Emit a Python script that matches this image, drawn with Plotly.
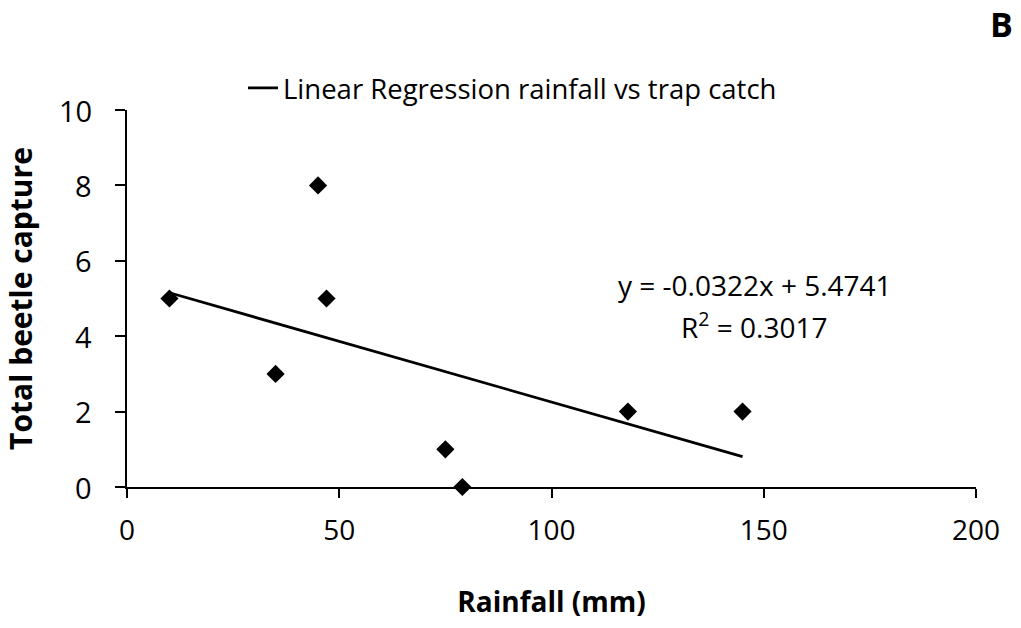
import plotly.graph_objects as go

# Monthly rainfall and the beetle catch recorded in the traps
rainfall_mm = [10, 35, 45, 47, 75, 79, 118, 145]
beetle_catch = [5, 3, 8, 5, 1, 0, 2, 2]

# Fitted trend: y = slope * x + intercept
slope = -0.0322
intercept = 5.4741
r_squared = 0.3017

x_ticks = [0, 50, 100, 150, 200]
y_ticks = [0, 2, 4, 6, 8, 10]

FONT = "Open Sans"

# Plot-area placement in pixels
W, H = 1021, 628
L, R, T, B = 127, 45, 110, 141
PW, PH = W - L - R, H - T - B


def paper_x(px):
    return (px - L) / PW


def paper_y(py):
    return (H - B - py) / PH


trend_x = [min(rainfall_mm), max(rainfall_mm)]
trend_y = [slope * v + intercept for v in trend_x]

fig = go.Figure()
fig.add_trace(go.Scatter(
    x=rainfall_mm, y=beetle_catch, mode="markers",
    marker=dict(symbol="diamond", size=14, color="black"),
    showlegend=False, cliponaxis=False,
))
fig.add_trace(go.Scatter(
    x=trend_x, y=trend_y, mode="lines",
    line=dict(color="black", width=2.8),
    name="Linear Regression rainfall vs trap catch",
    showlegend=True,
))

# y tick labels, set a little further out from the axis than the default
for v in y_ticks:
    fig.add_annotation(
        x=0, y=v, xref="paper", yref="y", xanchor="right", yanchor="middle",
        xshift=-33, showarrow=False, text=str(v),
        font=dict(family=FONT, size=29, color="black"),
    )

fig.add_annotation(
    x=paper_x(755), y=paper_y(285), xref="paper", yref="paper",
    xanchor="center", yanchor="middle", showarrow=False,
    text=f"y = {slope}x + {intercept}",
    font=dict(family=FONT, size=28, color="black"),
)
fig.add_annotation(
    x=paper_x(754), y=paper_y(325), xref="paper", yref="paper",
    xanchor="center", yanchor="middle", showarrow=False,
    text=f"R<sup>2</sup> = {r_squared}",
    font=dict(family=FONT, size=28, color="black"),
)
fig.add_annotation(
    x=paper_x(1001), y=paper_y(24), xref="paper", yref="paper",
    xanchor="center", yanchor="middle", showarrow=False,
    text="<b>B</b>", font=dict(family=FONT, size=34, color="black"),
)

fig.update_layout(
    width=W, height=H,
    margin=dict(l=L, r=R, t=T, b=B),
    paper_bgcolor="white", plot_bgcolor="white",
    font=dict(family=FONT, color="black"),
    legend=dict(
        x=paper_x(243), y=paper_y(88), xanchor="left", yanchor="middle",
        bgcolor="rgba(0,0,0,0)", font=dict(family=FONT, size=27.5, color="black"),
    ),
    xaxis=dict(
        range=[0, 200], tickvals=x_ticks, ticktext=[str(v) for v in x_ticks],
        showgrid=False, zeroline=False, showline=True, linecolor="black", linewidth=2,
        ticks="outside", ticklen=9, tickwidth=2, tickcolor="black",
        tickfont=dict(family=FONT, size=28), ticklabelstandoff=8,
        title=dict(text="<b>Rainfall (mm)</b>", font=dict(family=FONT, size=28), standoff=46),
    ),
    yaxis=dict(
        range=[0, 10], tickvals=y_ticks, showticklabels=False,
        showgrid=False, zeroline=False, showline=True, linecolor="black", linewidth=2,
        ticks="outside", ticklen=10, tickwidth=2, tickcolor="black",
        title=dict(text="<b>Total beetle capture</b>", font=dict(family=FONT, size=30), standoff=74),
    ),
)

fig.write_html("out.html")
